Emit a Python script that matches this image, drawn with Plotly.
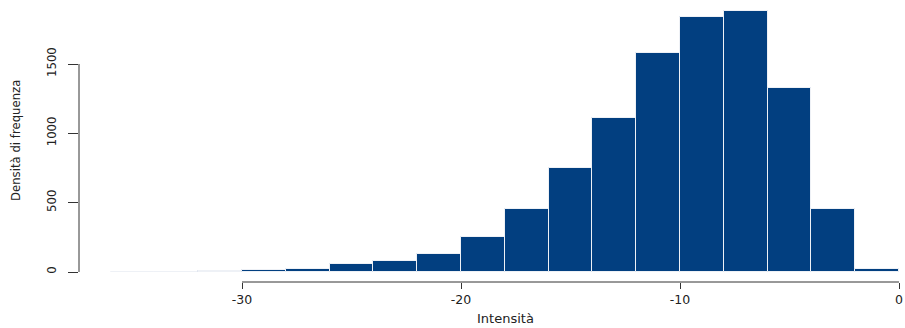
import plotly.graph_objects as go

bin_left = [-36, -34, -32, -30, -28, -26, -24, -22, -20, -18, -16, -14, -12, -10, -8, -6, -4, -2]
counts = [1, 2, 8, 13, 20, 55, 76, 127, 252, 452, 752, 1108, 1582, 1841, 1882, 1329, 452, 20]
bin_width = 2
x_ticks = [-30, -20, -10, 0]
x_tick_labels = ["-30", "-20", "-10", "0"]
y_ticks = [0, 500, 1000, 1500]
y_tick_labels = ["0", "500", "1000", "1500"]
x_title = "Intensità"
y_title = "Densità di frequenza"

centers = [b + bin_width / 2 for b in bin_left]

W, H = 905, 328
L = 79
plot_bottom = 282
B = H - plot_bottom
px_per_unit_x = 21.9
x_zero_px = 899
x_lo = (L - x_zero_px) / px_per_unit_x
x_hi = (W - x_zero_px) / px_per_unit_x
py_per_unit = 208 / 1500
y_zero_px = 272
y_lo = -(plot_bottom - y_zero_px) / py_per_unit
y_hi = y_zero_px / py_per_unit

fig = go.Figure(go.Bar(
    x=centers, y=counts, width=bin_width,
    marker=dict(color="#023f80", line=dict(color="#eef1f6", width=1)),
    hoverinfo="x+y",
))

fig.update_layout(
    width=W, height=H,
    margin=dict(l=L, r=0, t=0, b=B),
    plot_bgcolor="white", paper_bgcolor="white",
    showlegend=False, bargap=0,
    xaxis=dict(
        range=[x_lo, x_hi], tickvals=x_ticks, ticktext=x_tick_labels,
        ticks="outside", ticklen=6,
        tickcolor="#333", tickwidth=1, showgrid=False, zeroline=False, showline=False,
        tickfont=dict(family="DejaVu Sans", size=12.5, color="#222"),
    ),
    yaxis=dict(
        range=[y_lo, y_hi], tickvals=y_ticks, ticktext=y_tick_labels,
        ticks="outside", ticklen=10, ticklabelstandoff=7,
        tickcolor="#333", tickwidth=1, showgrid=False, zeroline=False, showline=False,
        tickangle=-90,
        tickfont=dict(family="Liberation Sans Narrow, DejaVu Sans Condensed, sans-serif", size=13, color="#222"),
    ),
    shapes=[
        dict(type="line", xref="x", yref="paper", x0=x_ticks[0], x1=x_ticks[-1], y0=0, y1=0,
             line=dict(color="#333", width=1)),
        dict(type="line", xref="paper", yref="y", x0=0, x1=0, y0=y_ticks[0], y1=y_ticks[-1],
             line=dict(color="#333", width=1)),
    ],
    annotations=[
        dict(text=x_title, xref="paper", yref="paper",
             x=(505 - L) / (W - L), y=-(318 - plot_bottom) / plot_bottom,
             xanchor="center", yanchor="middle", showarrow=False,
             font=dict(family="DejaVu Sans", size=13, color="#222")),
        dict(text=y_title, xref="paper", yref="paper",
             x=(15 - L) / (W - L), y=(plot_bottom - 141) / plot_bottom,
             xanchor="center", yanchor="middle", textangle=-90, showarrow=False,
             font=dict(family="Liberation Sans Narrow, DejaVu Sans Condensed, sans-serif", size=13, color="#222")),
    ],
)

fig.write_html(
    "out.html",
    config={"displayModeBar": False},
    post_script="document.body.style.margin='0';document.body.style.overflow='hidden';",
)
